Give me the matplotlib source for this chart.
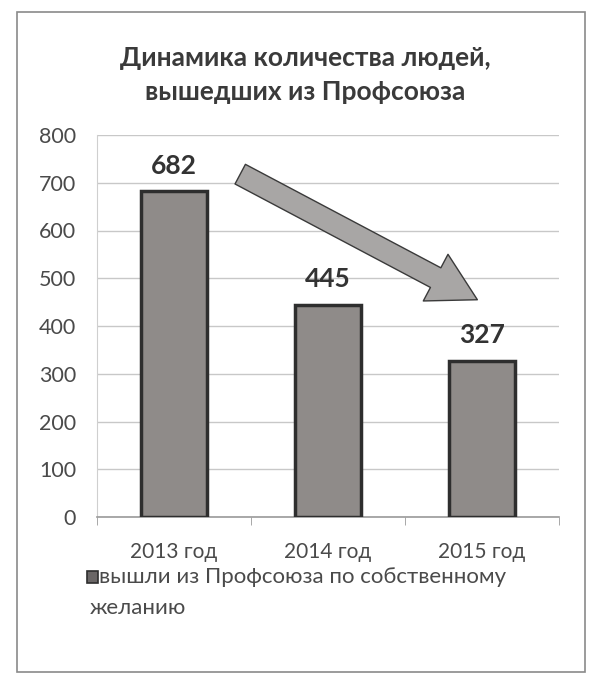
import matplotlib
matplotlib.use("Agg")
import matplotlib.pyplot as plt
from matplotlib.patches import Rectangle

categories = ["2013 год", "2014 год", "2015 год"]
values = [682, 445, 327]
yticks = [0, 100, 200, 300, 400, 500, 600, 700, 800]
title = "Динамика количества людей,\nвышедших из Профсоюза"
legend_line1 = "вышли из Профсоюза по собственному"
legend_line2 = "желанию"

plt.rcParams['font.family'] = ['Lato', 'DejaVu Sans']
txt = '#4a4a4a'

fig = plt.figure(figsize=(5.93, 6.8), dpi=100)
fig.patch.set_facecolor('white')

# outer chart border
fig.patches.append(Rectangle((17/593, 1-672/680), (585-17)/593, (672-12)/680,
                             transform=fig.transFigure, fill=False,
                             edgecolor='#8a8a8a', linewidth=1.2))

ax = fig.add_axes([97/593, 1-517/680, 462/593, 382/680])
x = list(range(len(categories)))
ax.bar(x, values, width=0.43, color='#8f8b89', edgecolor='#2e2e2e', linewidth=2.5, zorder=3)
ax.set_xlim(-0.5, 2.5)
ax.set_ylim(0, 800)
ax.set_yticks(yticks)
ax.set_yticklabels([str(t) for t in yticks], fontsize=15.5, color=txt)
ax.set_xticks(x)
ax.set_xticklabels(categories, fontsize=15, color=txt)
ax.tick_params(axis='y', length=0, pad=15)
ax.tick_params(axis='x', length=0, pad=18)
# minor ticks at category boundaries
ax.set_xticks([-0.5, 0.5, 1.5, 2.5], minor=True)
ax.tick_params(axis='x', which='minor', length=6, color='#9a9a9a', direction='out')
ax.grid(axis='y', color='#c8c8c8', linewidth=1.0, zorder=0)
for s in ['top', 'right']:
    ax.spines[s].set_visible(False)
ax.spines['left'].set_color('#cfcfcf')
ax.spines['bottom'].set_color('#9a9a9a')
ax.spines['bottom'].set_linewidth(1.2)

for xi, v in zip(x, values):
    ax.text(xi, v + 28, str(v), ha='center', va='bottom', fontsize=19,
            fontweight='bold', color='#333333')

# decorative downward arrow
ax.annotate('', xy=(1.97, 455), xytext=(0.43, 718),
            arrowprops=dict(arrowstyle='simple,head_length=3.4,head_width=3.8,tail_width=1.6',
                            mutation_scale=10, fc='#a8a6a5', ec='#3a3a3a', lw=1.0,
                            shrinkA=0, shrinkB=0), zorder=4)

fig.text(305/593, 1-75/680, title, ha='center', va='center', fontsize=19,
         fontweight='bold', color='#3a3a3a', linespacing=1.45)

# legend
fig.patches.append(Rectangle((87/593, 1-583/680), 11/593, 12/680, transform=fig.transFigure,
                             facecolor='#6a6666', edgecolor='#2e2e2e', linewidth=1.2))
fig.text(99/593, 1-577/680, legend_line1, ha='left', va='center',
         fontsize=16, color=txt)
fig.text(90/593, 1-608/680, legend_line2, ha='left', va='center',
         fontsize=16, color=txt)

fig.savefig('out.png', dpi=100, facecolor='white')
